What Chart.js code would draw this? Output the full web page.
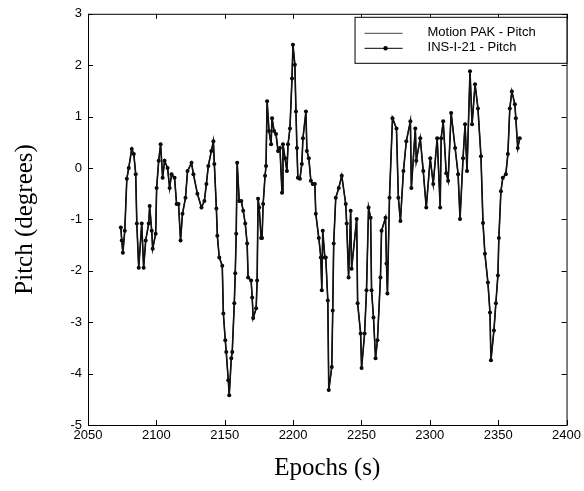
<!DOCTYPE html>
<html><head><meta charset="utf-8">
<script src="https://cdn.jsdelivr.net/npm/chart.js@4.4.1/dist/chart.umd.min.js"></script>
<style>html,body{margin:0;padding:0;background:#fff}canvas{display:block}</style>
</head><body>
<canvas id="c" width="584" height="491"></canvas>
<script>
const epochs = [2074.0,2074.7,2075.5,2076.9,2078.4,2079.8,2082.0,2083.5,2084.9,2085.7,2087.1,2089.3,2090.7,2092.2,2094.4,2095.1,2096.6,2097.3,2099.5,2100.2,
2101.7,2103.1,2104.6,2106.0,2108.2,2109.7,2111.1,2113.3,2114.8,2116.2,2117.7,2119.1,2121.3,2122.8,2125.7,2127.1,2130.0,2133.0,2135.1,2136.6,
2138.0,2140.2,2141.7,2142.4,2143.9,2144.6,2146.0,2148.2,2149.0,2150.4,2151.1,2152.6,2153.3,2154.8,2155.5,2157.0,2157.7,2158.4,2159.1,2160.6,
2162.1,2163.5,2165.0,2166.4,2167.1,2169.3,2170.1,2170.8,2173.0,2173.7,2174.4,2175.2,2176.6,2177.3,2178.1,2179.5,2180.2,2181.0,2182.4,2183.9,
2184.6,2186.1,2187.5,2189.0,2190.4,2191.9,2192.6,2194.1,2195.5,2196.3,2197.7,2199.2,2199.9,2201.3,2202.1,2202.8,2203.5,2205.0,2206.4,2207.2,
2209.4,2210.1,2211.5,2213.0,2214.4,2215.9,2216.6,2218.8,2220.3,2221.0,2221.7,2223.2,2223.9,2225.4,2226.1,2228.3,2229.0,2229.7,2231.2,2233.4,
2235.6,2238.5,2239.2,2240.6,2242.1,2242.8,2246.5,2247.2,2249.4,2250.1,2252.3,2253.7,2255.2,2256.7,2257.4,2258.8,2260.3,2261.7,2263.9,2264.7,
2267.6,2268.3,2269.0,2270.5,2272.7,2275.6,2277.0,2278.5,2280.7,2282.8,2285.8,2286.5,2289.4,2290.1,2293.0,2295.2,2297.4,2300.3,2302.5,2305.4,
2307.6,2308.3,2309.8,2312.0,2313.4,2315.6,2318.5,2320.7,2322.1,2324.3,2325.8,2327.2,2329.4,2330.9,2333.1,2335.2,2337.4,2338.9,2340.3,2342.5,
2344.0,2344.7,2346.9,2348.3,2349.8,2350.5,2352.0,2353.4,2355.6,2357.1,2358.5,2360.0,2362.2,2362.9,2364.3,2365.8];

const motionPakPitch = [-1.16,-1.41,-1.65,-1.22,-0.21,0.00,0.37,0.27,-0.12,-1.08,-1.94,-1.08,-1.94,-1.41,-1.08,-0.74,-1.22,-1.57,-1.28,-0.39,
0.14,0.46,-0.19,0.14,0.00,-0.39,-0.12,-0.19,-0.70,-0.70,-1.41,-0.89,-0.58,-0.06,0.10,-0.12,-0.50,-0.77,-0.64,-0.31,
0.04,0.33,0.52,0.08,-0.79,-1.32,-1.74,-1.90,-2.83,-3.35,-3.58,-4.13,-4.42,-3.70,-3.58,-2.63,-2.05,-1.28,0.10,-0.64,
-0.64,-0.83,-1.08,-1.47,-2.13,-2.19,-2.52,-2.92,-2.73,-2.19,-0.60,-0.77,-1.36,-1.36,-0.70,-0.15,0.04,1.30,0.72,0.46,
0.97,0.72,0.66,0.33,0.39,-0.48,0.46,0.19,-0.06,0.46,0.77,1.74,2.40,2.01,1.10,0.39,-0.19,-0.21,0.08,0.58,
1.10,0.33,0.19,-0.25,-0.31,-0.31,-0.89,-1.36,-1.74,-2.38,-1.22,-1.74,-1.74,-2.58,-4.32,-3.87,-2.77,-1.47,-0.58,-0.39,
-0.15,-0.70,-1.08,-2.13,-0.83,-1.96,-0.99,-2.63,-3.22,-3.89,-3.22,-2.38,-0.77,-0.97,-2.38,-2.91,-3.70,-3.35,-2.13,-1.22,
-0.97,-1.86,-2.44,-0.58,0.97,0.77,-0.58,-1.03,-0.06,0.52,0.91,-0.39,0.77,0.14,0.58,-0.06,-0.77,0.19,-0.31,0.58,
-0.77,0.58,0.91,-0.10,-0.25,1.07,0.39,-0.12,-0.99,0.19,0.85,-0.06,1.88,0.85,1.63,1.16,0.23,-1.07,-1.67,-2.23,
-2.81,-3.74,-3.16,-2.63,-2.09,-1.36,-0.45,-0.19,-0.12,0.27,1.16,1.49,1.24,0.97,0.39,0.58];

const ins21Pitch = [-1.16,-1.41,-1.65,-1.22,-0.21,0.00,0.37,0.27,-0.12,-1.08,-1.94,-1.08,-1.94,-1.41,-1.08,-0.74,-1.22,-1.57,-1.28,-0.39,
0.14,0.46,-0.19,0.14,0.00,-0.39,-0.12,-0.19,-0.70,-0.70,-1.41,-0.89,-0.58,-0.06,0.10,-0.12,-0.50,-0.77,-0.64,-0.31,
0.04,0.33,0.52,0.08,-0.79,-1.32,-1.74,-1.90,-2.83,-3.35,-3.58,-4.13,-4.42,-3.70,-3.58,-2.63,-2.05,-1.28,0.10,-0.64,
-0.64,-0.83,-1.08,-1.47,-2.13,-2.19,-2.52,-2.92,-2.73,-2.19,-0.60,-0.77,-1.36,-1.36,-0.70,-0.15,0.04,1.30,0.72,0.46,
0.97,0.72,0.66,0.33,0.39,-0.48,0.46,0.19,-0.06,0.46,0.77,1.74,2.40,2.01,1.10,0.39,-0.19,-0.21,0.08,0.58,
1.10,0.33,0.19,-0.25,-0.31,-0.31,-0.89,-1.36,-1.74,-2.38,-1.22,-1.74,-1.74,-2.58,-4.32,-3.87,-2.77,-1.47,-0.58,-0.39,
-0.15,-0.70,-1.08,-2.13,-0.83,-1.96,-0.99,-2.63,-3.22,-3.89,-3.22,-2.38,-0.77,-0.97,-2.38,-2.91,-3.70,-3.35,-2.13,-1.22,
-0.97,-1.86,-2.44,-0.58,0.97,0.77,-0.58,-1.03,-0.06,0.52,0.91,-0.39,0.77,0.14,0.58,-0.06,-0.77,0.19,-0.31,0.58,
-0.77,0.58,0.91,-0.10,-0.25,1.07,0.39,-0.12,-0.99,0.19,0.85,-0.06,1.88,0.85,1.63,1.16,0.23,-1.07,-1.67,-2.23,
-2.81,-3.74,-3.16,-2.63,-2.09,-1.36,-0.45,-0.19,-0.12,0.27,1.16,1.49,1.24,0.97,0.39,0.58];

const xTicks = [2050,2100,2150,2200,2250,2300,2350,2400];
const yTicks = [-5,-4,-3,-2,-1,0,1,2,3];
const seriesNames = ['Motion PAK - Pitch','INS-I-21 - Pitch'];
const xTitle = 'Epochs (s)';
const yTitle = 'Pitch (degrees)';

const framePlugin = {
  id: 'frame',
  afterDraw(chart) {
    const {ctx, chartArea: a, scales: {x, y}} = chart;
    ctx.save();
    ctx.strokeStyle = '#000';
    ctx.lineWidth = 1;
    ctx.strokeRect(a.left + 0.5, a.top + 0.5, a.right - a.left, a.bottom - a.top);
    const L = 5;
    ctx.beginPath();
    xTicks.forEach(v => {
      const p = Math.round(x.getPixelForValue(v)) + 0.5;
      ctx.moveTo(p, a.bottom); ctx.lineTo(p, a.bottom - L);
      ctx.moveTo(p, a.top); ctx.lineTo(p, a.top + L);
    });
    yTicks.forEach(v => {
      const p = Math.round(y.getPixelForValue(v)) + 0.5;
      ctx.moveTo(a.left, p); ctx.lineTo(a.left + L, p);
      ctx.moveTo(a.right, p); ctx.lineTo(a.right - L, p);
    });
    ctx.stroke();
    // legend box
    const bw = 212, bh = 46;
    const bx = a.right - bw, by = a.top + 3;
    ctx.fillStyle = '#fff';
    ctx.fillRect(bx, by, bw, bh);
    ctx.strokeRect(bx + 0.5, by + 0.5, bw, bh);
    ctx.font = '13px "Liberation Sans", Arial, sans-serif';
    ctx.fillStyle = '#000';
    ctx.textBaseline = 'middle';
    ctx.textAlign = 'left';
    const rows = [by + 16, by + 31];
    ctx.beginPath();
    ctx.strokeStyle = '#444';
    ctx.moveTo(bx + 10, rows[0] + 0.5); ctx.lineTo(bx + 48, rows[0] + 0.5);
    ctx.stroke();
    ctx.beginPath();
    ctx.strokeStyle = '#000';
    ctx.moveTo(bx + 10, rows[1] + 0.5); ctx.lineTo(bx + 48, rows[1] + 0.5);
    ctx.stroke();
    ctx.beginPath();
    ctx.arc(bx + 31, rows[1] + 0.5, 2.2, 0, Math.PI * 2);
    ctx.fill();
    ctx.fillText(seriesNames[0], bx + 73, rows[0]);
    ctx.fillText(seriesNames[1], bx + 73, rows[1]);
    ctx.restore();
  }
};

const tickFont = {family: '"Liberation Sans", Arial, sans-serif', size: 13};
const titleFont = {family: '"Liberation Serif", "Times New Roman", serif', size: 25};

new Chart(document.getElementById('c'), {
  type: 'line',
  data: {
    datasets: [
      {
        label: seriesNames[0],
        data: epochs.map((e, i) => ({x: e, y: motionPakPitch[i]})),
        borderColor: '#111',
        borderWidth: 1.6,
        pointRadius: 0,
        tension: 0
      },
      {
        label: seriesNames[1],
        data: epochs.map((e, i) => ({x: e, y: ins21Pitch[i]})),
        borderColor: '#000',
        borderWidth: 1.2,
        pointRadius: 2,
        pointBackgroundColor: '#000',
        pointBorderWidth: 0,
        tension: 0
      }
    ]
  },
  options: {
    responsive: false,
    animation: false,
    devicePixelRatio: 1,
    layout: {padding: {top: 12, right: 15, left: 0, bottom: 0}},
    plugins: {legend: {display: false}, tooltip: {enabled: false}},
    scales: {
      x: {
        type: 'linear', min: 2050, max: 2400,
        afterBuildTicks: s => { s.ticks = xTicks.map(v => ({value: v})); },
        afterFit: s => { s.height = 66; },
        grid: {display: false, drawTicks: false},
        border: {display: false},
        ticks: {color: '#000', font: tickFont, padding: 3, maxRotation: 0, autoSkip: false, callback: v => String(v)},
        title: {display: true, text: xTitle, color: '#000', font: titleFont, padding: {top: 0, bottom: 8}}
      },
      y: {
        type: 'linear', min: -5, max: 3,
        afterBuildTicks: s => { s.ticks = yTicks.map(v => ({value: v})); },
        afterFit: s => { s.width = 88; },
        grid: {display: false, drawTicks: false},
        border: {display: false},
        ticks: {color: '#000', font: tickFont, padding: 6, autoSkip: false, callback: v => String(v)},
        title: {display: true, text: yTitle, color: '#000', font: titleFont, padding: {top: 10, bottom: 0}}
      }
    }
  },
  plugins: [framePlugin]
});
</script>
</body></html>
